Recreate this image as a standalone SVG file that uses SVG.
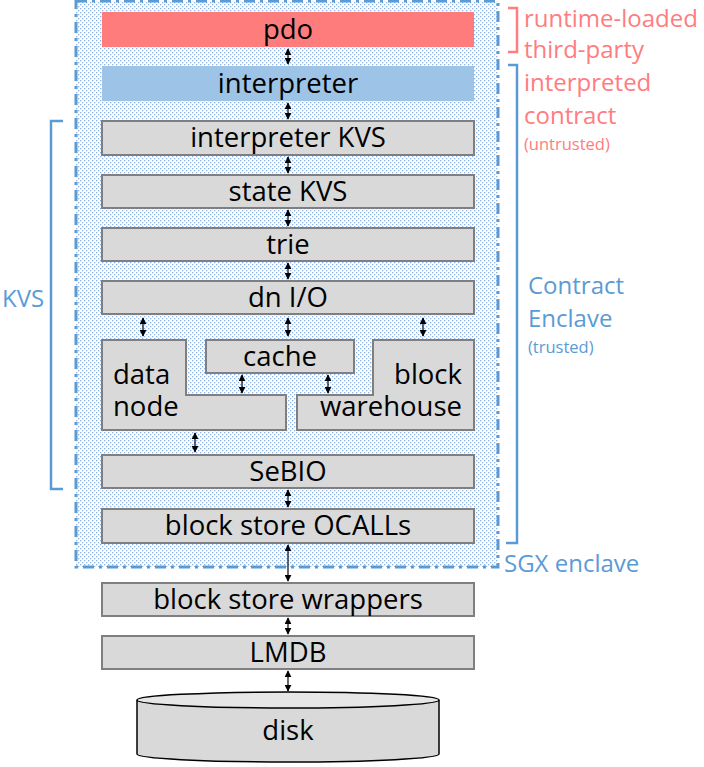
<svg xmlns="http://www.w3.org/2000/svg" width="704" height="767" viewBox="0 0 704 767">
<style>
.box{fill:#D9D9D9;stroke:#7F7F7F;stroke-width:2}
.t{font-family:"Open Sans","Noto Sans",sans-serif;font-size:27.5px;fill:#000;text-anchor:middle}
.tl{text-anchor:start}
.tr{text-anchor:end}
.red{font-family:"Open Sans","Noto Sans",sans-serif;font-size:24px;fill:#FF7C80}
.blue{font-family:"Open Sans","Noto Sans",sans-serif;font-size:24px;fill:#5B9BD5}
.small{font-size:16.5px}
.arr{stroke:#000;stroke-width:1.2;fill:none;marker-start:url(#ah);marker-end:url(#ah)}
</style>
<defs>
<pattern id="dots" width="4" height="4" patternUnits="userSpaceOnUse">
<rect width="4" height="4" fill="#fff"/>
<rect x="0" y="0" width="1.3" height="1.3" fill="#8DB3E2"/>
<rect x="2" y="2" width="1.3" height="1.3" fill="#8DB3E2"/>
</pattern>
<marker id="ah" viewBox="0 0 10 10" refX="9" refY="5" markerWidth="7" markerHeight="7" markerUnits="userSpaceOnUse" orient="auto-start-reverse">
<path d="M0,0 L10,5 L0,10 z" fill="#000"/>
</marker>
</defs>

<g id="enclave">
<rect x="76" y="1" width="422" height="566" fill="url(#dots)" stroke="#5B9BD5" stroke-width="3" stroke-dasharray="11,5,3,5"/>
<text class="blue" x="504" y="572">SGX enclave</text>
</g>

<g id="pdo"><rect x="102" y="12" width="372" height="35" fill="#FF7C7C"/><text class="t" x="288" y="39">pdo</text></g>
<g id="interpreter"><rect x="102" y="66" width="372" height="35" fill="#9DC3E6"/><text class="t" x="288" y="93">interpreter</text></g>
<g id="interpreter-kvs"><rect class="box" x="102" y="121" width="372" height="34"/><text class="t" x="288" y="147">interpreter KVS</text></g>
<g id="state-kvs"><rect class="box" x="102" y="175" width="372" height="33"/><text class="t" x="288" y="201">state KVS</text></g>
<g id="trie"><rect class="box" x="102" y="228" width="372" height="33"/><text class="t" x="288" y="254">trie</text></g>
<g id="dn-io"><rect class="box" x="102" y="281" width="372" height="33"/><text class="t" x="288" y="307">dn I/O</text></g>
<g id="data-node"><path class="box" d="M102,340 H186 V395 H286 V430 H102 Z"/><text class="t tl" x="113" y="384">data</text><text class="t tl" x="113" y="416">node</text></g>
<g id="cache"><rect class="box" x="206" y="340" width="148" height="33"/><text class="t" x="280" y="366">cache</text></g>
<g id="block-warehouse"><path class="box" d="M373,340 H474 V430 H297 V395 H373 Z"/><text class="t tr" x="462" y="384">block</text><text class="t tr" x="462" y="416">warehouse</text></g>
<g id="sebio"><rect class="box" x="102" y="455" width="372" height="33"/><text class="t" x="288" y="481">SeBIO</text></g>
<g id="ocalls"><rect class="box" x="102" y="509" width="372" height="34"/><text class="t" x="288" y="535">block store OCALLs</text></g>
<g id="wrappers"><rect class="box" x="102" y="583" width="372" height="33"/><text class="t" x="288" y="609">block store wrappers</text></g>
<g id="lmdb"><rect class="box" x="102" y="636" width="372" height="33"/><text class="t" x="288" y="662">LMDB</text></g>
<g id="disk">
<path d="M137,700 V754 A151,8 0 0 0 439,754 V700" fill="#D9D9D9" stroke="#000" stroke-width="1.5"/>
<ellipse cx="288" cy="700" rx="151" ry="8" fill="#E6E6E6" stroke="#000" stroke-width="1.5"/>
<text class="t" x="288" y="740">disk</text>
</g>

<g id="brackets" fill="none" stroke-width="2.5">
<path d="M508,8 H517 V52 H508" stroke="#FF7C80"/>
<path d="M508,65 H517 V543 H506" stroke="#5B9BD5"/>
<path d="M63,121 H51 V489 H63" stroke="#5B9BD5"/>
</g>
<g id="labels">
<text class="red" x="524" y="27">runtime-loaded</text>
<text class="red" x="524" y="58">third-party</text>
<text class="red" x="524" y="91">interpreted</text>
<text class="red" x="524" y="124">contract</text>
<text class="red small" x="524" y="150">(untrusted)</text>
<text class="blue" x="528" y="294">Contract</text>
<text class="blue" x="528" y="327">Enclave</text>
<text class="blue small" x="528" y="353">(trusted)</text>
<text class="blue" x="2" y="307">KVS</text>
</g>

<g id="connectors">
<line class="arr" x1="288" y1="49" x2="288" y2="64"/>
<line class="arr" x1="288" y1="103" x2="288" y2="119"/>
<line class="arr" x1="288" y1="157" x2="288" y2="173"/>
<line class="arr" x1="288" y1="210" x2="288" y2="226"/>
<line class="arr" x1="288" y1="263" x2="288" y2="279"/>
<line class="arr" x1="143" y1="318" x2="143" y2="336"/>
<line class="arr" x1="288" y1="318" x2="288" y2="336"/>
<line class="arr" x1="423" y1="318" x2="423" y2="336"/>
<line class="arr" x1="242" y1="375" x2="242" y2="393"/>
<line class="arr" x1="328" y1="375" x2="328" y2="393"/>
<line class="arr" x1="195" y1="433" x2="195" y2="452"/>
<line class="arr" x1="288" y1="490" x2="288" y2="507"/>
<line class="arr" x1="288" y1="545" x2="288" y2="581"/>
<line class="arr" x1="288" y1="618" x2="288" y2="634"/>
<line class="arr" x1="288" y1="671" x2="288" y2="691"/>
</g>
</svg>
